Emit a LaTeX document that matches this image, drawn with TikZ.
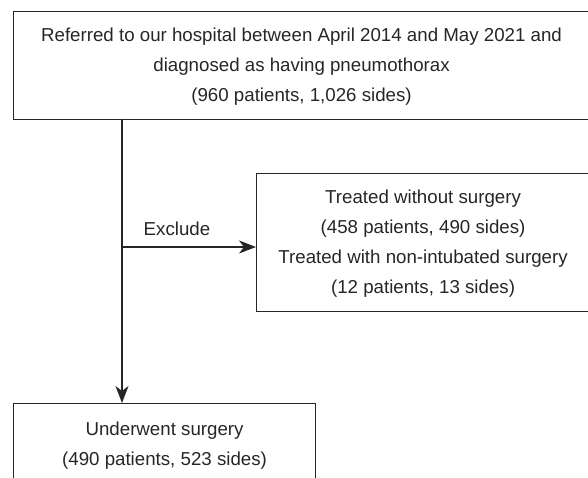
\documentclass[tikz,border=0pt]{standalone}
\usepackage{fontspec}
\setmainfont{Liberation Sans}
\usetikzlibrary{arrows.meta}

\begin{document}
\begin{tikzpicture}[
  x=1pt, y=-1pt,
  box/.style={rectangle, draw=black!85, line width=1.1pt, anchor=north west,
              align=center, text=black!85, inner sep=0pt, text depth=0pt,
              font=\fontsize{18.7}{30}\selectfont},
  arrow/.style={-{Stealth[length=17pt, width=13pt, inset=5pt]}, line width=1.1pt, draw=black!85},
  note/.style={font=\fontsize{18.7}{30}\selectfont, text=black!85, inner sep=0pt}
]
  \useasboundingbox (0,0) rectangle (588,477);

  \node[box, minimum width=576pt, minimum height=108pt] (referred) at (13,10.5)
    {Referred to our hospital between April 2014 and May 2021 and\\
     diagnosed as having pneumothorax\\
     (960 patients, 1,026 sides)};
  \node[box, minimum width=333pt, minimum height=138pt] (excluded) at (256,172.5)
    {Treated without surgery\\
     (458 patients, 490 sides)\\
     Treated with non-intubated surgery\\
     (12 patients, 13 sides)};
  \node[box, minimum width=302pt, minimum height=81pt] (surgery) at (13,403)
    {Underwent surgery\\
     (490 patients, 523 sides)};

  \coordinate (trunk)  at (122,118.5);
  \coordinate (branch) at (122,247);

  % Arrows
  \draw[arrow] (trunk) -- (trunk |- surgery.north);
  \draw[arrow] (branch) -- node[note, pos=0.41, above=11pt]{Exclude} (branch -| excluded.west);
\end{tikzpicture}
\end{document}
